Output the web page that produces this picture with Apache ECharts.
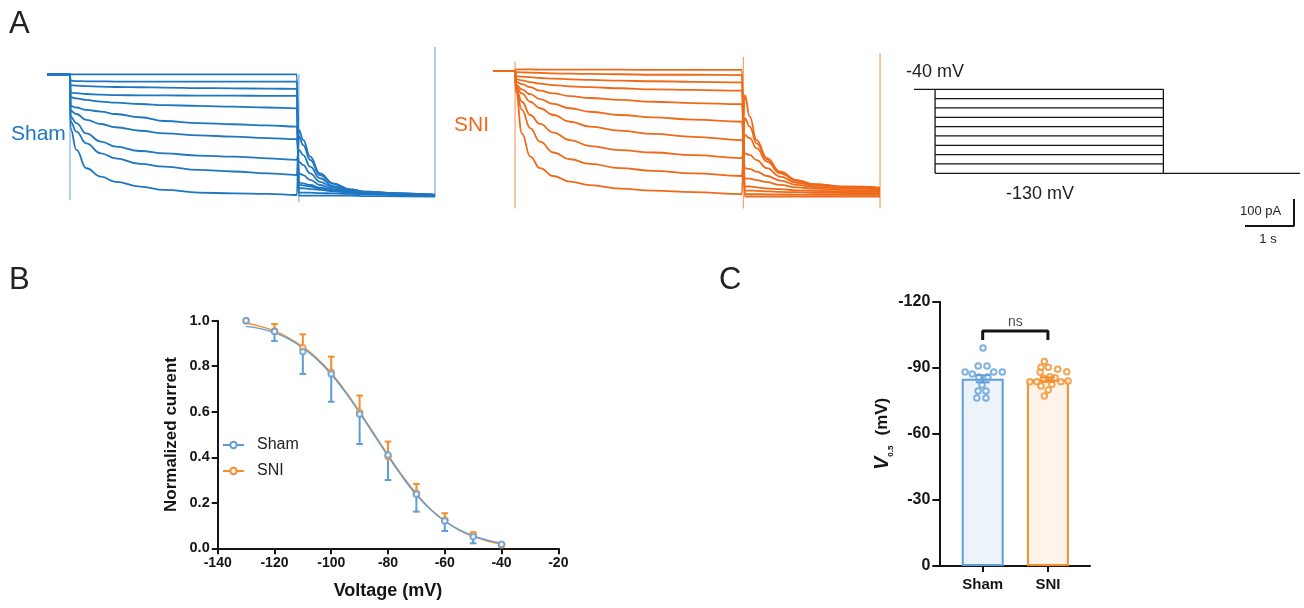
<!DOCTYPE html>
<html><head><meta charset="utf-8">
<script src="https://cdn.jsdelivr.net/npm/echarts/dist/echarts.min.js"></script>
<style>html,body{margin:0;padding:0;background:#fff}#c{width:1304px;height:608px}</style>
</head><body><div id="c"></div>
<script>
// ================= Panel A : current traces (pA vs s) =================
const shamHold = [0, 0.47];
const shamStepT = [0.48, 0.6, 0.8, 1.1, 1.4, 1.9, 2.4, 3.1, 3.8, 4.5, 5.1];
const shamTailT = [5.14, 5.23, 5.37, 5.57, 5.84, 6.18, 6.52, 7.20, 7.92];
const shamStep = [
  [0, 0, 0, 0, 0, 0, 0, 0, 0, 0, 0],
  [-23, -25, -26, -26, -27, -27, -27, -27, -27, -27, -27],
  [-40, -42, -44, -46, -47, -48, -49, -51, -52, -53, -54],
  [-68, -70, -73, -75, -77, -78, -78, -79, -79, -80, -80],
  [-85, -89, -95, -101, -105, -110, -114, -117, -120, -123, -126],
  [-117, -123, -132, -138, -147, -159, -173, -181, -185, -189, -194],
  [-135, -147, -169, -184, -196, -209, -219, -226, -231, -236, -240],
  [-157, -181, -219, -249, -268, -284, -293, -301, -305, -311, -317],
  [-175, -212, -256, -293, -311, -332, -342, -354, -360, -367, -373],
  [-200, -280, -348, -379, -398, -416, -428, -438, -441, -443, -447]
];
const shamTail = [
  [-449, -449, -449, -449, -449, -449, -451, -452, -453],
  [-438, -438, -438, -440, -441, -443, -444, -447, -451],
  [-422, -422, -425, -428, -433, -438, -442, -446, -449],
  [-410, -411, -416, -423, -431, -437, -441, -444, -448],
  [-401, -404, -410, -420, -428, -436, -440, -443, -447],
  [-367, -373, -391, -410, -425, -433, -438, -443, -447],
  [-324, -336, -367, -398, -419, -431, -437, -442, -447],
  [-280, -299, -342, -385, -414, -428, -436, -441, -447],
  [-230, -262, -317, -373, -406, -426, -435, -441, -447],
  [-206, -243, -305, -367, -404, -426, -435, -441, -447]
];
// transient artefact lines [t, top pA, bottom pA]
const shamTransients = [[0.47, 0, -466], [5.14, 0, -473], [7.92, 102, -453]];

const sniHold = [0, 0.45];
const sniStepT = [0.47, 0.59, 0.76, 0.96, 1.23, 1.57, 1.98, 2.59, 3.27, 4.09, 5.08];
const sniTailT = [5.14, 5.24, 5.38, 5.59, 5.86, 6.20, 6.54, 7.22, 7.90];
const sniStep = [
  [6, 6, 6, 5, 5, 5, 5, 5, 4, 4, 4],
  [-4, -5, -6, -7, -9, -10, -11, -12, -14, -14, -15],
  [-19, -21, -23, -26, -28, -31, -33, -36, -38, -40, -42],
  [-30, -35, -41, -47, -52, -57, -60, -64, -68, -70, -73],
  [-40, -49, -60, -73, -83, -93, -100, -107, -114, -119, -123],
  [-51, -68, -86, -104, -122, -138, -151, -163, -172, -180, -188],
  [-58, -83, -114, -138, -163, -188, -206, -221, -233, -244, -256],
  [-64, -114, -163, -196, -228, -256, -278, -293, -302, -312, -323],
  [-70, -144, -212, -262, -302, -327, -344, -360, -370, -379, -389],
  [-77, -231, -317, -360, -389, -410, -423, -436, -443, -449, -456]
];
const sniTail = [
  [-465, -465, -465, -465, -465, -465, -465, -465, -465],
  [-456, -456, -456, -457, -457, -458, -458, -459, -459],
  [-443, -443, -444, -446, -448, -449, -451, -452, -453],
  [-428, -428, -431, -435, -438, -442, -444, -447, -448],
  [-398, -399, -404, -412, -422, -431, -436, -441, -443],
  [-360, -363, -373, -389, -406, -422, -430, -436, -440],
  [-305, -311, -330, -360, -391, -414, -425, -433, -437],
  [-237, -249, -286, -336, -379, -407, -421, -431, -435],
  [-175, -206, -268, -327, -375, -405, -420, -430, -433],
  [-89, -169, -256, -323, -373, -404, -419, -428, -432]
];
const sniTransients = [[0.45, 34, -509], [5.11, 53, -509], [7.90, 66, -509]];

// voltage protocol (mV vs s)
const protoLevels = [-40, -50, -60, -70, -80, -90, -100, -110, -120, -130];
const protoTimes = [0, 0.43, 5.09, 7.88];   // holding start, step start, step end, end
const protoHold = -40, protoPost = -130;

// scale bar (1 s, 100 pA)
const scaleT = 1, scaleI = 100;

// ================= Panel B : activation curve =================
const voltages = [-130, -120, -110, -100, -90, -80, -70, -60, -50, -40];
const shamMean = [1.000, 0.952, 0.864, 0.766, 0.589, 0.410, 0.237, 0.120, 0.051, 0.018];
const shamSEM  = [0, 0.041, 0.098, 0.122, 0.131, 0.110, 0.076, 0.044, 0.029, 0];
const sniMean  = [1.000, 0.955, 0.881, 0.773, 0.597, 0.403, 0.242, 0.124, 0.059, 0.015];
const sniSEM   = [0, 0.030, 0.059, 0.069, 0.074, 0.066, 0.041, 0.030, 0.011, 0];
const fitV     = [-130, -125, -120, -115, -110, -105, -100, -95, -90, -85, -80, -75, -70, -65, -60, -55, -50, -45, -40];
const shamFit  = [0.975, 0.965, 0.948, 0.920, 0.880, 0.830, 0.765, 0.685, 0.595, 0.500, 0.405, 0.315, 0.235, 0.170, 0.120, 0.082, 0.055, 0.036, 0.022];
const sniFit   = [0.990, 0.975, 0.955, 0.925, 0.885, 0.835, 0.770, 0.690, 0.600, 0.505, 0.410, 0.320, 0.240, 0.172, 0.120, 0.080, 0.052, 0.032, 0.018];

// ================= Panel C : V0.5 =================
const groups = ['Sham', 'SNI'];
const v05Mean = [-85.0, -84.6];
const v05SEM = [1.6, 1.0];
const shamDotX = [0.005, -0.07, 0.066, -0.27, -0.16, 0.17, 0.30, -0.06, 0.08, -0.01, -0.07, 0.05, -0.09, 0.05];
const shamDotY = [-99.0, -90.8, -90.8, -88.1, -87.2, -88.1, -88.1, -85.8, -85.8, -82.2, -79.5, -79.5, -76.3, -76.3];
const sniDotX = [0.945, 0.894, 1.006, 1.15, 1.29, 0.725, 0.83, 0.93, 1.03, 0.894, 1.06, 1.20, 1.31, 1.006, 0.945, 0.88, 1.11];
const sniDotY = [-92.8, -90.2, -90.2, -89.3, -88.2, -83.7, -83.7, -85.2, -85.9, -81.7, -82.5, -83.7, -84.0, -79.9, -77.2, -88.0, -85.5];
const bracket = { left: 0, right: 1, low: -102.6, high: -106.7, label: 'ns' };

// ================= styles =================
const FONT = 'Arial, "Liberation Sans", Helvetica, sans-serif';
const INK = '#151515';
const shamTrace = '#1f77c0', shamTransient = '#86b8e3';
const sniTrace = '#ee6a1a', sniTransient = '#f4a877';
const blue = '#5f9dd9', orange = '#f28e2b';
const blueFill = '#edf3fb', orangeFill = '#fef4ea';

const series = [];

function addTraces(gi, hold, stepT, steps, tailT, tails, color, trans, tcolor) {
  steps.forEach((st, i) => {
    const data = [[hold[0], 0], [hold[1], 0]]
      .concat(stepT.map((t, j) => [t, st[j]]))
      .concat(tailT.map((t, j) => [t, tails[i][j]]));
    series.push({type: 'line', xAxisIndex: gi, yAxisIndex: gi, data, showSymbol: false, symbol: 'none',
      smooth: 0.45, smoothMonotone: 'x', lineStyle: {color, width: 1.8}, silent: true, z: 3});
  });
  trans.forEach(tr => {
    series.push({type: 'line', xAxisIndex: gi, yAxisIndex: gi, data: [[tr[0], tr[1]], [tr[0], tr[2]]],
      showSymbol: false, symbol: 'none', lineStyle: {color: tcolor, width: 1.3}, silent: true, z: 2});
  });
}
addTraces(0, shamHold, shamStepT, shamStep, shamTailT, shamTail, shamTrace, shamTransients, shamTransient);
addTraces(1, sniHold, sniStepT, sniStep, sniTailT, sniTail, sniTrace, sniTransients, sniTransient);

// protocol
function protoLine(data) {
  series.push({type: 'line', xAxisIndex: 2, yAxisIndex: 2, data, showSymbol: false, symbol: 'none',
    lineStyle: {color: INK, width: 1.3}, silent: true});
}
protoLine([[protoTimes[0], protoHold], [protoTimes[1], protoHold]]);
protoLevels.forEach(L => protoLine([[protoTimes[1], L], [protoTimes[2], L]]));
protoLine([[protoTimes[2], protoPost], [protoTimes[3], protoPost]]);
protoLine([[protoTimes[1], protoLevels[0]], [protoTimes[1], protoLevels[protoLevels.length - 1]]]);
protoLine([[protoTimes[2], protoLevels[0]], [protoTimes[2], protoLevels[protoLevels.length - 1]]]);

// scale bars
series.push({type: 'line', xAxisIndex: 3, yAxisIndex: 3, data: [[0, 0], [scaleT, 0], [scaleT, scaleI]],
  showSymbol: false, symbol: 'none', clip: false, lineStyle: {color: INK, width: 2}, silent: true});

// Panel B
function errSeries(gi, means, sems, dir, color, capW, xs) {
  const data = [];
  means.forEach((m, i) => { if (sems[i] > 0) data.push([xs[i], m, m + dir * sems[i]]); });
  return {type: 'custom', xAxisIndex: gi, yAxisIndex: gi, data, silent: true, z: 4,
    renderItem: (p, api) => {
      const a = api.coord([api.value(0), api.value(1)]);
      const b = api.coord([api.value(0), api.value(2)]);
      return {type: 'group', children: [
        {type: 'line', shape: {x1: a[0], y1: a[1], x2: b[0], y2: b[1]}, style: {stroke: color, lineWidth: 2}},
        {type: 'line', shape: {x1: b[0] - capW, y1: b[1], x2: b[0] + capW, y2: b[1]}, style: {stroke: color, lineWidth: 2}}
      ]};
    }};
}
series.push({name: 'SNI', type: 'line', xAxisIndex: 4, yAxisIndex: 4, data: fitV.map((v, i) => [v, sniFit[i]]),
  smooth: 0.4, showSymbol: false, symbol: 'emptyCircle', itemStyle: {color: orange}, lineStyle: {color: orange, width: 1.4}, z: 3, silent: true});
series.push({name: 'Sham', type: 'line', xAxisIndex: 4, yAxisIndex: 4, data: fitV.map((v, i) => [v, shamFit[i]]),
  smooth: 0.4, showSymbol: false, symbol: 'emptyCircle', itemStyle: {color: blue}, lineStyle: {color: blue, width: 1.4}, z: 3, silent: true});
series.push(errSeries(4, sniMean, sniSEM, 1, orange, 3.3, voltages));
series.push(errSeries(4, shamMean, shamSEM, -1, blue, 3.3, voltages));
series.push({name: 'SNI pts', type: 'scatter', xAxisIndex: 4, yAxisIndex: 4, data: voltages.map((v, i) => [v, sniMean[i]]),
  symbol: 'emptyCircle', symbolSize: 5.5, itemStyle: {color: orange, borderWidth: 1.8}, z: 5, silent: true});
series.push({name: 'Sham pts', type: 'scatter', xAxisIndex: 4, yAxisIndex: 4, data: voltages.map((v, i) => [v, shamMean[i]]),
  symbol: 'emptyCircle', symbolSize: 5.5, itemStyle: {color: blue, borderWidth: 1.8}, z: 6, silent: true});

// Panel C
series.push({type: 'bar', xAxisIndex: 6, yAxisIndex: 6, barWidth: 42, silent: true, z: 2,
  data: [
    {value: v05Mean[0], itemStyle: {color: blueFill, borderColor: blue, borderWidth: 2}},
    {value: v05Mean[1], itemStyle: {color: orangeFill, borderColor: orange, borderWidth: 2}}
  ]});
series.push({type: 'scatter', xAxisIndex: 7, yAxisIndex: 6, data: shamDotX.map((x, i) => [x, shamDotY[i]]),
  symbol: 'emptyCircle', symbolSize: 5.5, itemStyle: {color: blue, borderWidth: 1.6}, z: 4, silent: true});
series.push({type: 'scatter', xAxisIndex: 7, yAxisIndex: 6, data: sniDotX.map((x, i) => [x, sniDotY[i]]),
  symbol: 'emptyCircle', symbolSize: 5.5, itemStyle: {color: orange, borderWidth: 1.6}, z: 4, silent: true});
[0, 1].forEach(i => {
  const color = i === 0 ? blue : orange;
  series.push({type: 'custom', xAxisIndex: 6, yAxisIndex: 6, z: 5, silent: true,
    data: [[i, v05Mean[i] - v05SEM[i], v05Mean[i] + v05SEM[i]]],
    renderItem: (p, api) => {
      const a = api.coord([api.value(0), api.value(1)]);
      const b = api.coord([api.value(0), api.value(2)]);
      const w = 7;
      return {type: 'group', children: [
        {type: 'line', shape: {x1: a[0], y1: a[1], x2: b[0], y2: b[1]}, style: {stroke: color, lineWidth: 2}},
        {type: 'line', shape: {x1: a[0] - w, y1: a[1], x2: a[0] + w, y2: a[1]}, style: {stroke: color, lineWidth: 2}},
        {type: 'line', shape: {x1: b[0] - w, y1: b[1], x2: b[0] + w, y2: b[1]}, style: {stroke: color, lineWidth: 2}}
      ]};
    }});
});
series.push({type: 'line', xAxisIndex: 7, yAxisIndex: 6, showSymbol: false, symbol: 'none', silent: true,
  data: [[bracket.left, bracket.low], [bracket.left, bracket.high], [bracket.right, bracket.high], [bracket.right, bracket.low]],
  lineStyle: {color: INK, width: 3}, clip: false});
series.push({type: 'scatter', xAxisIndex: 7, yAxisIndex: 6, symbolSize: 0, silent: true,
  data: [[(bracket.left + bracket.right) / 2, bracket.high]],
  label: {show: true, position: 'top', distance: 2, formatter: bracket.label, fontFamily: FONT, fontSize: 14, color: '#222'}});

const hidden = {show: false};
const axLine = {show: true, onZero: false, lineStyle: {color: INK, width: 2}};
const axTick = {show: true, length: 6, inside: false, lineStyle: {color: INK, width: 2}};
const labB = {fontFamily: FONT, fontWeight: 'bold', fontSize: 14, color: INK, margin: 8};

const option = {
  animation: false,
  backgroundColor: '#fff',
  grid: [
    {left: 47, top: 45, width: 389, height: 160},
    {left: 493, top: 45, width: 389, height: 165},
    {left: 914, top: 80, width: 389, height: 100},
    {left: 1245, top: 196, width: 49, height: 30},
    {left: 217.7, top: 320.7, width: 340.6, height: 227.6},
    {left: 939.3, top: 301.7, width: 150.7, height: 264.3},
    {left: 950.1, top: 301.7, width: 130.4, height: 264.3}
  ],
  xAxis: [
    {gridIndex: 0, type: 'value', min: 0, max: 7.94, show: false},
    {gridIndex: 1, type: 'value', min: 0, max: 7.94, show: false},
    {gridIndex: 2, type: 'value', min: 0, max: 7.94, show: false},
    {gridIndex: 3, type: 'value', min: 0, max: 1, show: false},
    {gridIndex: 4, type: 'value', min: -140, max: -20, interval: 20, axisLine: axLine, axisTick: axTick,
      axisLabel: labB, splitLine: hidden, name: 'Voltage (mV)', nameLocation: 'middle', nameGap: 34,
      nameTextStyle: {fontFamily: FONT, fontWeight: 'bold', fontSize: 18, color: INK}},
    {gridIndex: 5, type: 'value', min: 0, max: 1, position: 'bottom', axisLine: axLine, axisTick: hidden, axisLabel: hidden, splitLine: hidden},
    {gridIndex: 6, type: 'category', data: groups, position: 'bottom', axisLine: {show: false},
      axisTick: {show: true, alignWithLabel: true, length: 6, lineStyle: {color: INK, width: 2}},
      axisLabel: {fontFamily: FONT, fontWeight: 'bold', fontSize: 15, color: INK, margin: 11}, splitLine: hidden},
    {gridIndex: 6, type: 'value', min: -0.5, max: 1.5, show: false}
  ],
  yAxis: [
    {gridIndex: 0, type: 'value', min: -484, max: 108.5, show: false},
    {gridIndex: 1, type: 'value', min: -515, max: 96.3, show: false},
    {gridIndex: 2, type: 'value', min: -137.2, max: -30.04, show: false},
    {gridIndex: 3, type: 'value', min: 0, max: 111, show: false},
    {gridIndex: 4, type: 'value', min: 0, max: 1, interval: 0.2, axisLine: axLine, axisTick: axTick,
      axisLabel: Object.assign({}, labB, {fontSize: 14.5, formatter: v => v.toFixed(1)}), splitLine: hidden,
      name: 'Normalized current', nameLocation: 'middle', nameGap: 38, nameRotate: 90,
      nameTextStyle: {fontFamily: FONT, fontWeight: 'bold', fontSize: 17, color: INK}},
    {gridIndex: 5, type: 'value', min: -120, max: 0, interval: 30, inverse: true, axisLine: axLine,
      axisTick: {show: true, length: 7, lineStyle: {color: INK, width: 2}},
      axisLabel: {fontFamily: FONT, fontWeight: 'bold', fontSize: 16, color: INK, margin: 9}, splitLine: hidden,
      name: '{v|V}{s|0.5}   {u|(mV)}', nameLocation: 'middle', nameGap: 44, nameRotate: 90,
      nameTextStyle: {fontFamily: FONT, color: INK, rich: {
        v: {fontFamily: FONT, fontSize: 20, fontWeight: 'bold', fontStyle: 'italic', color: INK, lineHeight: 24},
        s: {fontFamily: FONT, fontSize: 8, fontWeight: 'bold', color: INK, verticalAlign: 'bottom', lineHeight: 24},
        u: {fontFamily: FONT, fontSize: 17, fontWeight: 'bold', color: INK, lineHeight: 24}
      }}},
    {gridIndex: 6, type: 'value', min: -120, max: 0, inverse: true, show: false}
  ],
  legend: {
    data: ['Sham', 'SNI'], orient: 'vertical', left: 222, top: 437, padding: 0, itemWidth: 21, itemHeight: 8, itemGap: 10,
    textStyle: {fontFamily: FONT, fontSize: 16, color: '#222', padding: [0, 0, 0, 8]}, selectedMode: false
  },
  graphic: [
    {type: 'text', x: 9, y: 24, style: {text: 'A', fontFamily: FONT, fontSize: 31, fill: '#222', align: 'left', verticalAlign: 'middle'}},
    {type: 'text', x: 9, y: 280, style: {text: 'B', fontFamily: FONT, fontSize: 31, fill: '#222', align: 'left', verticalAlign: 'middle'}},
    {type: 'text', x: 719, y: 280, style: {text: 'C', fontFamily: FONT, fontSize: 31, fill: '#222', align: 'left', verticalAlign: 'middle'}},
    {type: 'text', x: 11, y: 134, style: {text: 'Sham', fontFamily: FONT, fontSize: 21, fill: shamTrace, align: 'left', verticalAlign: 'middle'}},
    {type: 'text', x: 454, y: 125, style: {text: 'SNI', fontFamily: FONT, fontSize: 21, fill: sniTrace, align: 'left', verticalAlign: 'middle'}},
    {type: 'text', x: 906, y: 72, style: {text: '-40 mV', fontFamily: FONT, fontSize: 18, fill: '#222', align: 'left', verticalAlign: 'middle'}},
    {type: 'text', x: 1006, y: 194, style: {text: '-130 mV', fontFamily: FONT, fontSize: 18, fill: '#222', align: 'left', verticalAlign: 'middle'}},
    {type: 'text', x: 1240, y: 211, style: {text: '100 pA', fontFamily: FONT, fontSize: 13, fill: '#222', align: 'left', verticalAlign: 'middle'}},
    {type: 'text', x: 1268, y: 239, style: {text: '1 s', fontFamily: FONT, fontSize: 13, fill: '#222', align: 'center', verticalAlign: 'middle'}}
  ],
  series
};
const chart = echarts.init(document.getElementById('c'), null, {renderer: 'canvas'});
chart.setOption(option);
</script></body></html>
